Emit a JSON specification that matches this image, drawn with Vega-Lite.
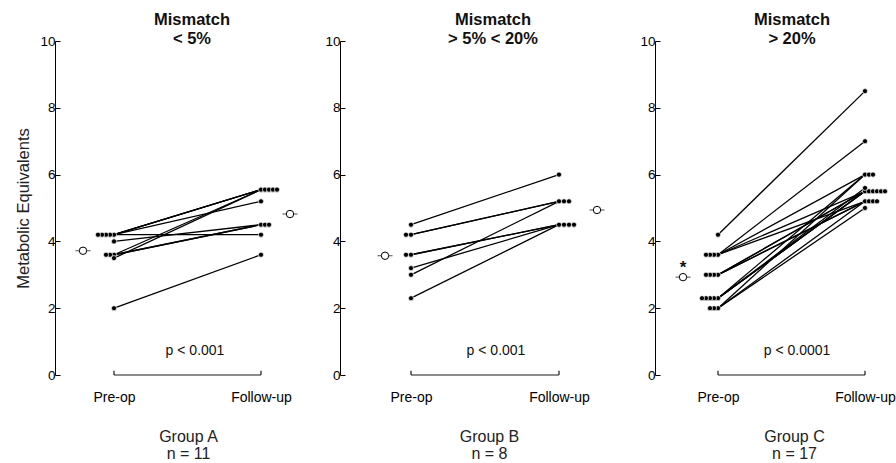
{
  "$schema": "https://vega.github.io/schema/vega-lite/v6.json",
  "padding": {"left": 15, "top": 11, "right": 0, "bottom": 0},
  "bounds": "flush",
  "spacing": 35,
  "config": {
    "view": {"stroke": null},
    "font": "Liberation Sans",
    "axis": {"domainColor": "black", "tickColor": "black", "labelColor": "#000", "titleColor": "#222", "labelFontSize": 13.5, "grid": false},
    "title": {"fontSize": 16.5, "fontWeight": "bold", "lineHeight": 19, "color": "#111", "offset": -13, "frame": "group"}
  },
  "datasets": {
    "pts": [
      {"g":"A","id":1,"t":"Pre-op","v":4.2},{"g":"A","id":1,"t":"Follow-up","v":5.55},
      {"g":"A","id":2,"t":"Pre-op","v":4.2},{"g":"A","id":2,"t":"Follow-up","v":5.55},
      {"g":"A","id":3,"t":"Pre-op","v":4.2},{"g":"A","id":3,"t":"Follow-up","v":5.55},
      {"g":"A","id":4,"t":"Pre-op","v":4.2},{"g":"A","id":4,"t":"Follow-up","v":5.2},
      {"g":"A","id":5,"t":"Pre-op","v":4.2},{"g":"A","id":5,"t":"Follow-up","v":4.2},
      {"g":"A","id":6,"t":"Pre-op","v":4.0},{"g":"A","id":6,"t":"Follow-up","v":4.5},
      {"g":"A","id":7,"t":"Pre-op","v":3.6},{"g":"A","id":7,"t":"Follow-up","v":5.55},
      {"g":"A","id":8,"t":"Pre-op","v":3.6},{"g":"A","id":8,"t":"Follow-up","v":4.5},
      {"g":"A","id":9,"t":"Pre-op","v":3.6},{"g":"A","id":9,"t":"Follow-up","v":4.5},
      {"g":"A","id":10,"t":"Pre-op","v":3.5},{"g":"A","id":10,"t":"Follow-up","v":5.55},
      {"g":"A","id":11,"t":"Pre-op","v":2.0},{"g":"A","id":11,"t":"Follow-up","v":3.6},
      {"g":"B","id":1,"t":"Pre-op","v":4.5},{"g":"B","id":1,"t":"Follow-up","v":6.0},
      {"g":"B","id":2,"t":"Pre-op","v":4.2},{"g":"B","id":2,"t":"Follow-up","v":5.2},
      {"g":"B","id":3,"t":"Pre-op","v":4.2},{"g":"B","id":3,"t":"Follow-up","v":5.2},
      {"g":"B","id":4,"t":"Pre-op","v":3.6},{"g":"B","id":4,"t":"Follow-up","v":4.5},
      {"g":"B","id":5,"t":"Pre-op","v":3.6},{"g":"B","id":5,"t":"Follow-up","v":4.5},
      {"g":"B","id":6,"t":"Pre-op","v":3.2},{"g":"B","id":6,"t":"Follow-up","v":4.5},
      {"g":"B","id":7,"t":"Pre-op","v":3.0},{"g":"B","id":7,"t":"Follow-up","v":5.2},
      {"g":"B","id":8,"t":"Pre-op","v":2.3},{"g":"B","id":8,"t":"Follow-up","v":4.5},
      {"g":"C","id":1,"t":"Pre-op","v":4.2},{"g":"C","id":1,"t":"Follow-up","v":8.5},
      {"g":"C","id":2,"t":"Pre-op","v":3.6},{"g":"C","id":2,"t":"Follow-up","v":7.0},
      {"g":"C","id":3,"t":"Pre-op","v":3.6},{"g":"C","id":3,"t":"Follow-up","v":6.0},
      {"g":"C","id":4,"t":"Pre-op","v":3.6},{"g":"C","id":4,"t":"Follow-up","v":5.2},
      {"g":"C","id":5,"t":"Pre-op","v":3.6},{"g":"C","id":5,"t":"Follow-up","v":5.5},
      {"g":"C","id":6,"t":"Pre-op","v":3.0},{"g":"C","id":6,"t":"Follow-up","v":5.2},
      {"g":"C","id":7,"t":"Pre-op","v":3.0},{"g":"C","id":7,"t":"Follow-up","v":5.2},
      {"g":"C","id":8,"t":"Pre-op","v":3.0},{"g":"C","id":8,"t":"Follow-up","v":5.5},
      {"g":"C","id":9,"t":"Pre-op","v":3.0},{"g":"C","id":9,"t":"Follow-up","v":5.5},
      {"g":"C","id":10,"t":"Pre-op","v":2.3},{"g":"C","id":10,"t":"Follow-up","v":6.0},
      {"g":"C","id":11,"t":"Pre-op","v":2.3},{"g":"C","id":11,"t":"Follow-up","v":5.5},
      {"g":"C","id":12,"t":"Pre-op","v":2.3},{"g":"C","id":12,"t":"Follow-up","v":5.5},
      {"g":"C","id":13,"t":"Pre-op","v":2.3},{"g":"C","id":13,"t":"Follow-up","v":5.6},
      {"g":"C","id":14,"t":"Pre-op","v":2.3},{"g":"C","id":14,"t":"Follow-up","v":5.5},
      {"g":"C","id":15,"t":"Pre-op","v":2.0},{"g":"C","id":15,"t":"Follow-up","v":6.0},
      {"g":"C","id":16,"t":"Pre-op","v":2.0},{"g":"C","id":16,"t":"Follow-up","v":5.0},
      {"g":"C","id":17,"t":"Pre-op","v":2.0},{"g":"C","id":17,"t":"Follow-up","v":5.2}
    ],
    "means": [
      {"g":"A","t":"Pre-op","v":3.72,"sig":""},{"g":"A","t":"Follow-up","v":4.82,"sig":""},
      {"g":"B","t":"Pre-op","v":3.57,"sig":""},{"g":"B","t":"Follow-up","v":4.94,"sig":""},
      {"g":"C","t":"Pre-op","v":2.93,"sig":"*"},{"g":"C","t":"Follow-up","v":5.75,"sig":""}
    ]
  },
  "hconcat": [
    {
      "width": 250, "height": 334,
      "title": {"text": ["Mismatch", "< 5%"], "anchor": "start", "align": "center", "dx": 137},
      "resolve": {"scale": {"xOffset": "independent"}},
      "layer": [
        {"data": {"name": "pts"}, "transform": [{"filter": "datum.g == 'A'"}],
         "mark": {"type": "line", "color": "black", "strokeWidth": 1.3},
         "encoding": {
           "x": {"field": "t", "type": "nominal", "sort": null, "scale": {"type": "point", "domain": ["Pre-op", "Follow-up"], "range": [59, 206], "padding": 0},
                 "axis": {"title": ["Group A", "n = 11"], "labelAngle": 0, "labelFontSize": 14, "domain": false, "ticks": false, "labelPadding": 15, "titleFontSize": 16, "titleFontWeight": "normal", "titlePadding": 24, "titleX": 133, "titleLineHeight": 17}},
           "y": {"field": "v", "type": "quantitative", "scale": {"domain": [0, 10], "nice": false},
                 "axis": {"values": [0, 2, 4, 6, 8, 10], "title": "Metabolic Equivalents", "titleFontSize": 16.5, "titleFontWeight": "normal", "titlePadding": 8, "tickSize": -5, "labelPadding": 5}},
           "detail": {"field": "id"}}},
        {"data": {"name": "pts"}, "transform": [{"filter": "datum.g == 'A' && datum.t == 'Pre-op'"}, {"window": [{"op": "row_number", "as": "k"}], "groupby": ["v"], "sort": [{"field": "id"}]}],
         "mark": {"type": "circle", "color": "black", "opacity": 1, "size": 26, "stroke": "white", "strokeWidth": 0.7},
         "encoding": {"x": {"field": "t", "type": "nominal"}, "y": {"field": "v", "type": "quantitative"},
           "xOffset": {"field": "k", "type": "quantitative", "scale": {"domain": [1, 6], "range": [0, -20]}}}},
        {"data": {"name": "pts"}, "transform": [{"filter": "datum.g == 'A' && datum.t == 'Follow-up'"}, {"window": [{"op": "row_number", "as": "k"}], "groupby": ["v"], "sort": [{"field": "id"}]}],
         "mark": {"type": "circle", "color": "black", "opacity": 1, "size": 26, "stroke": "white", "strokeWidth": 0.7},
         "encoding": {"x": {"field": "t", "type": "nominal"}, "y": {"field": "v", "type": "quantitative"},
           "xOffset": {"field": "k", "type": "quantitative", "scale": {"domain": [1, 6], "range": [0, 20]}}}},
        {"data": {"name": "means"}, "transform": [{"filter": "datum.g == 'A'"}],
         "mark": {"type": "tick", "orient": "horizontal", "size": 15, "thickness": 1, "color": "black"},
         "encoding": {"x": {"field": "t", "type": "nominal"}, "y": {"field": "v", "type": "quantitative"},
           "xOffset": {"field": "t", "type": "nominal", "scale": {"type": "point", "padding": 0, "domain": ["Pre-op", "Follow-up"], "range": [-31, 29]}}}},
        {"data": {"name": "means"}, "transform": [{"filter": "datum.g == 'A'"}],
         "mark": {"type": "point", "shape": "circle", "filled": true, "fill": "white", "stroke": "black", "strokeWidth": 1, "size": 55, "opacity": 1},
         "encoding": {"x": {"field": "t", "type": "nominal"}, "y": {"field": "v", "type": "quantitative"},
           "xOffset": {"field": "t", "type": "nominal", "scale": {"type": "point", "padding": 0, "domain": ["Pre-op", "Follow-up"], "range": [-31, 29]}}}},
        {"data": {"values": [{}]},
         "mark": {"type": "rule", "color": "#1a1a1a", "strokeWidth": 1.2},
         "encoding": {"x": {"datum": "Pre-op"}, "x2": {"datum": "Follow-up"}, "y": {"datum": 0}}},
        {"data": {"values": [{"t": "Pre-op"}, {"t": "Follow-up"}]},
         "mark": {"type": "rule", "color": "#1a1a1a", "strokeWidth": 1.2},
         "encoding": {"x": {"field": "t", "type": "nominal"}, "y": {"datum": 0}, "y2": {"datum": 0.13}}},
        {"data": {"values": [{}]},
         "mark": {"type": "text", "text": "p < 0.001", "fontSize": 14, "dx": 81, "color": "#111"},
         "encoding": {"x": {"datum": "Pre-op"}, "y": {"datum": 0.72}}}
      ]
    },
    {
      "width": 280, "height": 334,
      "title": {"text": ["Mismatch", "> 5% < 20%"], "anchor": "start", "align": "center", "dx": 153},
      "resolve": {"scale": {"xOffset": "independent"}},
      "layer": [
        {"data": {"name": "pts"}, "transform": [{"filter": "datum.g == 'B'"}],
         "mark": {"type": "line", "color": "black", "strokeWidth": 1.3},
         "encoding": {
           "x": {"field": "t", "type": "nominal", "sort": null, "scale": {"type": "point", "domain": ["Pre-op", "Follow-up"], "range": [71, 219], "padding": 0},
                 "axis": {"title": ["Group B", "n = 8"], "labelAngle": 0, "labelFontSize": 14, "domain": false, "ticks": false, "labelPadding": 15, "titleFontSize": 16, "titleFontWeight": "normal", "titlePadding": 24, "titleX": 149, "titleLineHeight": 17}},
           "y": {"field": "v", "type": "quantitative", "scale": {"domain": [0, 10], "nice": false},
                 "axis": {"values": [0, 2, 4, 6, 8, 10], "title": null, "tickSize": -5, "labelPadding": 5}},
           "detail": {"field": "id"}}},
        {"data": {"name": "pts"}, "transform": [{"filter": "datum.g == 'B' && datum.t == 'Pre-op'"}, {"window": [{"op": "row_number", "as": "k"}], "groupby": ["v"], "sort": [{"field": "id"}]}],
         "mark": {"type": "circle", "color": "black", "opacity": 1, "size": 26, "stroke": "white", "strokeWidth": 0.7},
         "encoding": {"x": {"field": "t", "type": "nominal"}, "y": {"field": "v", "type": "quantitative"},
           "xOffset": {"field": "k", "type": "quantitative", "scale": {"domain": [1, 6], "range": [0, -25]}}}},
        {"data": {"name": "pts"}, "transform": [{"filter": "datum.g == 'B' && datum.t == 'Follow-up'"}, {"window": [{"op": "row_number", "as": "k"}], "groupby": ["v"], "sort": [{"field": "id"}]}],
         "mark": {"type": "circle", "color": "black", "opacity": 1, "size": 26, "stroke": "white", "strokeWidth": 0.7},
         "encoding": {"x": {"field": "t", "type": "nominal"}, "y": {"field": "v", "type": "quantitative"},
           "xOffset": {"field": "k", "type": "quantitative", "scale": {"domain": [1, 6], "range": [0, 25]}}}},
        {"data": {"name": "means"}, "transform": [{"filter": "datum.g == 'B'"}],
         "mark": {"type": "tick", "orient": "horizontal", "size": 15, "thickness": 1, "color": "black"},
         "encoding": {"x": {"field": "t", "type": "nominal"}, "y": {"field": "v", "type": "quantitative"},
           "xOffset": {"field": "t", "type": "nominal", "scale": {"type": "point", "padding": 0, "domain": ["Pre-op", "Follow-up"], "range": [-26, 38]}}}},
        {"data": {"name": "means"}, "transform": [{"filter": "datum.g == 'B'"}],
         "mark": {"type": "point", "shape": "circle", "filled": true, "fill": "white", "stroke": "black", "strokeWidth": 1, "size": 55, "opacity": 1},
         "encoding": {"x": {"field": "t", "type": "nominal"}, "y": {"field": "v", "type": "quantitative"},
           "xOffset": {"field": "t", "type": "nominal", "scale": {"type": "point", "padding": 0, "domain": ["Pre-op", "Follow-up"], "range": [-26, 38]}}}},
        {"data": {"values": [{}]},
         "mark": {"type": "rule", "color": "#1a1a1a", "strokeWidth": 1.2},
         "encoding": {"x": {"datum": "Pre-op"}, "x2": {"datum": "Follow-up"}, "y": {"datum": 0}}},
        {"data": {"values": [{"t": "Pre-op"}, {"t": "Follow-up"}]},
         "mark": {"type": "rule", "color": "#1a1a1a", "strokeWidth": 1.2},
         "encoding": {"x": {"field": "t", "type": "nominal"}, "y": {"datum": 0}, "y2": {"datum": 0.13}}},
        {"data": {"values": [{}]},
         "mark": {"type": "text", "text": "p < 0.001", "fontSize": 14, "dx": 85, "color": "#111"},
         "encoding": {"x": {"datum": "Pre-op"}, "y": {"datum": 0.72}}}
      ]
    },
    {
      "width": 243, "height": 334,
      "title": {"text": ["Mismatch", "> 20%"], "anchor": "start", "align": "center", "dx": 137},
      "resolve": {"scale": {"xOffset": "independent"}},
      "layer": [
        {"data": {"name": "pts"}, "transform": [{"filter": "datum.g == 'C'"}],
         "mark": {"type": "line", "color": "black", "strokeWidth": 1.3},
         "encoding": {
           "x": {"field": "t", "type": "nominal", "sort": null, "scale": {"type": "point", "domain": ["Pre-op", "Follow-up"], "range": [63, 210], "padding": 0},
                 "axis": {"title": ["Group C", "n = 17"], "labelAngle": 0, "labelFontSize": 14, "domain": false, "ticks": false, "labelPadding": 15, "titleFontSize": 16, "titleFontWeight": "normal", "titlePadding": 24, "titleX": 139, "titleLineHeight": 17}},
           "y": {"field": "v", "type": "quantitative", "scale": {"domain": [0, 10], "nice": false},
                 "axis": {"values": [0, 2, 4, 6, 8, 10], "title": null, "tickSize": -5, "labelPadding": 5}},
           "detail": {"field": "id"}}},
        {"data": {"name": "pts"}, "transform": [{"filter": "datum.g == 'C' && datum.t == 'Pre-op'"}, {"window": [{"op": "row_number", "as": "k"}], "groupby": ["v"], "sort": [{"field": "id"}]}],
         "mark": {"type": "circle", "color": "black", "opacity": 1, "size": 26, "stroke": "white", "strokeWidth": 0.7},
         "encoding": {"x": {"field": "t", "type": "nominal"}, "y": {"field": "v", "type": "quantitative"},
           "xOffset": {"field": "k", "type": "quantitative", "scale": {"domain": [1, 6], "range": [0, -20]}}}},
        {"data": {"name": "pts"}, "transform": [{"filter": "datum.g == 'C' && datum.t == 'Follow-up'"}, {"window": [{"op": "row_number", "as": "k"}], "groupby": ["v"], "sort": [{"field": "id"}]}],
         "mark": {"type": "circle", "color": "black", "opacity": 1, "size": 26, "stroke": "white", "strokeWidth": 0.7},
         "encoding": {"x": {"field": "t", "type": "nominal"}, "y": {"field": "v", "type": "quantitative"},
           "xOffset": {"field": "k", "type": "quantitative", "scale": {"domain": [1, 6], "range": [0, 20]}}}},
        {"data": {"name": "means"}, "transform": [{"filter": "datum.g == 'C'"}],
         "mark": {"type": "tick", "orient": "horizontal", "size": 15, "thickness": 1, "color": "black"},
         "encoding": {"x": {"field": "t", "type": "nominal"}, "y": {"field": "v", "type": "quantitative"},
           "xOffset": {"field": "t", "type": "nominal", "scale": {"type": "point", "padding": 0, "domain": ["Pre-op", "Follow-up"], "range": [-35, 39]}}}},
        {"data": {"name": "means"}, "transform": [{"filter": "datum.g == 'C'"}],
         "mark": {"type": "point", "shape": "circle", "filled": true, "fill": "white", "stroke": "black", "strokeWidth": 1, "size": 55, "opacity": 1},
         "encoding": {"x": {"field": "t", "type": "nominal"}, "y": {"field": "v", "type": "quantitative"},
           "xOffset": {"field": "t", "type": "nominal", "scale": {"type": "point", "padding": 0, "domain": ["Pre-op", "Follow-up"], "range": [-35, 39]}}}},
        {"data": {"name": "means"}, "transform": [{"filter": "datum.g == 'C' && datum.sig != ''"}],
         "mark": {"type": "text", "fontSize": 17, "fontWeight": "bold", "baseline": "middle", "dy": -9, "color": "#111"},
         "encoding": {"x": {"field": "t", "type": "nominal"}, "y": {"field": "v", "type": "quantitative"}, "text": {"field": "sig"},
           "xOffset": {"field": "t", "type": "nominal", "scale": {"type": "point", "padding": 0, "domain": ["Pre-op", "Follow-up"], "range": [-35, 39]}}}},
        {"data": {"values": [{}]},
         "mark": {"type": "rule", "color": "#1a1a1a", "strokeWidth": 1.2},
         "encoding": {"x": {"datum": "Pre-op"}, "x2": {"datum": "Follow-up"}, "y": {"datum": 0}}},
        {"data": {"values": [{"t": "Pre-op"}, {"t": "Follow-up"}]},
         "mark": {"type": "rule", "color": "#1a1a1a", "strokeWidth": 1.2},
         "encoding": {"x": {"field": "t", "type": "nominal"}, "y": {"datum": 0}, "y2": {"datum": 0.13}}},
        {"data": {"values": [{}]},
         "mark": {"type": "text", "text": "p < 0.0001", "fontSize": 14, "dx": 79, "color": "#111"},
         "encoding": {"x": {"datum": "Pre-op"}, "y": {"datum": 0.72}}}
      ]
    }
  ]
}
